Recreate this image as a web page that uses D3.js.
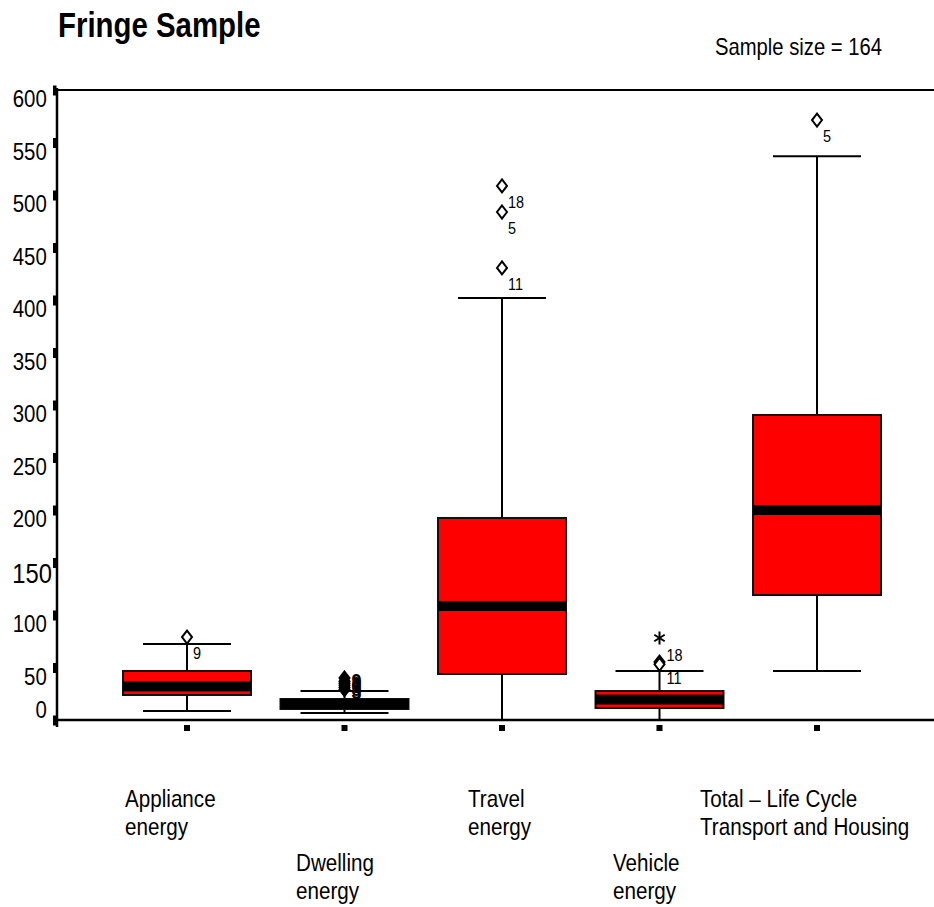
<!DOCTYPE html>
<html>
<head>
<meta charset="utf-8">
<script src="https://cdn.jsdelivr.net/npm/d3@7"></script>
<style>
  html, body { margin: 0; padding: 0; background: #fff; }
  svg text { font-family: 'Liberation Sans', Arial, sans-serif; fill: #000; }
</style>
</head>
<body>
<svg id="chart" width="934" height="907"></svg>
<script>
// ---- data ----
const categories = ["Appliance energy", "Dwelling energy", "Travel energy", "Vehicle energy", "Total \u2013 Life Cycle Transport and Housing"];
const labelLines = [["Appliance", "energy"], ["Dwelling", "energy"], ["Travel", "energy"], ["Vehicle", "energy"], ["Total \u2013 Life Cycle", "Transport and Housing"]];
const labelRow = [0, 1, 0, 1, 0];
const whiskerLow = [8.6, 6.7, 0, 0, 46.7];
const q1 = [23.8, 10.5, 43.8, 11.4, 119];
const median = [32, 15.2, 108.6, 19.5, 200];
const q3 = [46.7, 20, 192.4, 27.6, 290.5];
const whiskerHigh = [72.4, 27.6, 401.9, 46.7, 537];
// outliers: category index, value, case label, type
const outlierCat = [0, 1, 1, 1, 1, 1, 1, 2, 2, 2, 3, 3, 3, 4];
const outlierVal = [79, 29, 31, 33, 35, 37, 40, 508.6, 483.8, 430.5, 55.2, 53, 78.1, 571.4];
const outlierId = ["9", "", "", "", "", "", "", "18", "5", "11", "18", "11", "", "5"];
const outlierType = ["o", "o", "o", "o", "o", "o", "o", "o", "o", "o", "o", "o", "*", "o"];
const dwellingLabels = ["3", "8", "6", "0", "9"];
const yTicks = [0, 50, 100, 150, 200, 250, 300, 350, 400, 450, 500, 550, 600];
const title = "Fringe Sample";
const sampleNote = "Sample size = 164";

// ---- layout ----
const svg = d3.select("#chart");
const axisX = 57, frameRight = 934;
const y = d3.scaleLinear().domain([0, 600]).range([720, 90]);
const x = d3.scalePoint().domain(categories).range([187, 817]);
const boxW = 128, capW = 88;
const red = "#ff0000";

// condensed text helper (narrow font emulation)
function ctext(parent, px, py, str, size, sx, anchor, weight) {
  return parent.append("text")
    .attr("transform", `translate(${px},${py}) scale(${sx},1)`)
    .attr("font-size", size)
    .attr("font-weight", weight || "normal")
    .attr("text-anchor", anchor || "start")
    .text(str);
}

// title
ctext(svg, 58, 37, title, 35, 0.84, "start", "bold");
ctext(svg, 882, 55, sampleNote, 23, 0.88, "end");

// frame lines
svg.append("line").attr("x1", axisX).attr("x2", frameRight).attr("y1", y(600)).attr("y2", y(600))
  .attr("stroke", "#000").attr("stroke-width", 2);
svg.append("line").attr("x1", 54).attr("x2", frameRight).attr("y1", y(0)).attr("y2", y(0))
  .attr("stroke", "#000").attr("stroke-width", 2.5);
svg.append("line").attr("x1", axisX).attr("x2", axisX).attr("y1", y(600) - 2).attr("y2", y(0) + 7)
  .attr("stroke", "#000").attr("stroke-width", 2.5);

// y axis via d3 axis (labels restyled)
const yAxis = svg.append("g").attr("transform", `translate(${axisX},0)`)
  .call(d3.axisLeft(y).tickValues(yTicks).tickSize(0).tickPadding(0));
yAxis.select(".domain").remove();
yAxis.selectAll(".tick text")
  .attr("font-size", d => d === 150 ? 28 : 24)
  .attr("font-family", "'Liberation Sans', Arial, sans-serif")
  .attr("x", d => d === 150 ? -6 : -12)
  .attr("dy", d => d === 0 ? "-0.1em" : "0.7em")
  .attr("transform", "scale(0.85,1)");
yAxis.selectAll(".tick").append("rect")
  .attr("x", -4).attr("y", -5).attr("width", 3.5).attr("height", 10).attr("fill", "#000");

// x category markers
svg.selectAll("rect.xmark").data(categories).enter().append("rect")
  .attr("class", "xmark")
  .attr("x", d => x(d) - 3).attr("y", 725).attr("width", 6).attr("height", 6).attr("fill", "#000");

// category labels
const labelLeft = [125, 296, 468, 613, 700];
categories.forEach((c, i) => {
  const baseY = labelRow[i] === 0 ? 807 : 871;
  labelLines[i].forEach((ln, k) => {
    ctext(svg, labelLeft[i], baseY + k * 28, ln, 24, 0.86);
  });
});

// boxes
const g = svg.append("g");
categories.forEach((c, i) => {
  const cx = x(c);
  g.append("line").attr("x1", cx).attr("x2", cx).attr("y1", y(whiskerLow[i])).attr("y2", y(whiskerHigh[i]))
    .attr("stroke", "#000").attr("stroke-width", 2);
  [whiskerLow[i], whiskerHigh[i]].forEach(v => {
    g.append("line").attr("x1", cx - capW / 2).attr("x2", cx + capW / 2).attr("y1", y(v)).attr("y2", y(v))
      .attr("stroke", "#000").attr("stroke-width", 2);
  });
  g.append("rect").attr("x", cx - boxW / 2).attr("y", y(q3[i])).attr("width", boxW)
    .attr("height", y(q1[i]) - y(q3[i])).attr("fill", red).attr("stroke", "#111").attr("stroke-width", 2);
  const mTop = Math.max(y(median[i]) - 5, y(q3[i]) - 1);
  const mBot = Math.min(y(median[i]) + 5, y(q1[i]) + 1);
  g.append("rect").attr("x", cx - boxW / 2).attr("y", mTop).attr("width", boxW)
    .attr("height", mBot - mTop).attr("fill", "#000");
});

// outliers
function diamond(cx, cy) {
  return `M${cx},${cy - 6.5}L${cx + 5},${cy}L${cx},${cy + 6.5}L${cx - 5},${cy}Z`;
}
outlierVal.forEach((v, k) => {
  const i = outlierCat[k];
  const cx = x(categories[i]);
  const cy = y(v);
  if (outlierType[k] === "*") {
    const s = 6.5;
    [[0, -s, 0, s], [-s * 0.8, -s * 0.5, s * 0.8, s * 0.5], [-s * 0.8, s * 0.5, s * 0.8, -s * 0.5]].forEach(p => {
      g.append("line").attr("x1", cx + p[0]).attr("y1", cy + p[1]).attr("x2", cx + p[2]).attr("y2", cy + p[3])
        .attr("stroke", "#000").attr("stroke-width", 2);
    });
  } else {
    g.append("path").attr("d", diamond(cx, cy)).attr("fill", i === 1 ? "#000" : "#fff")
      .attr("stroke", "#000").attr("stroke-width", 2);
  }
  if (outlierId[k]) {
    let dx = 6, dy = 22;
    if (i === 3) { dx = 7; dy = outlierId[k] === "18" ? -1 : 20; }
    ctext(g, cx + dx, cy + dy, outlierId[k], 17, 0.85);
  }
});
// overlapping case labels for dwelling outliers (illegible cluster, as in the source)
dwellingLabels.forEach((lb, k) => {
  const cx = x(categories[1]);
  ctext(g, cx + 7, y(27 + k * 2.5) + 7, lb, 20, 0.9, "start", "bold");
});
</script>
</body>
</html>
